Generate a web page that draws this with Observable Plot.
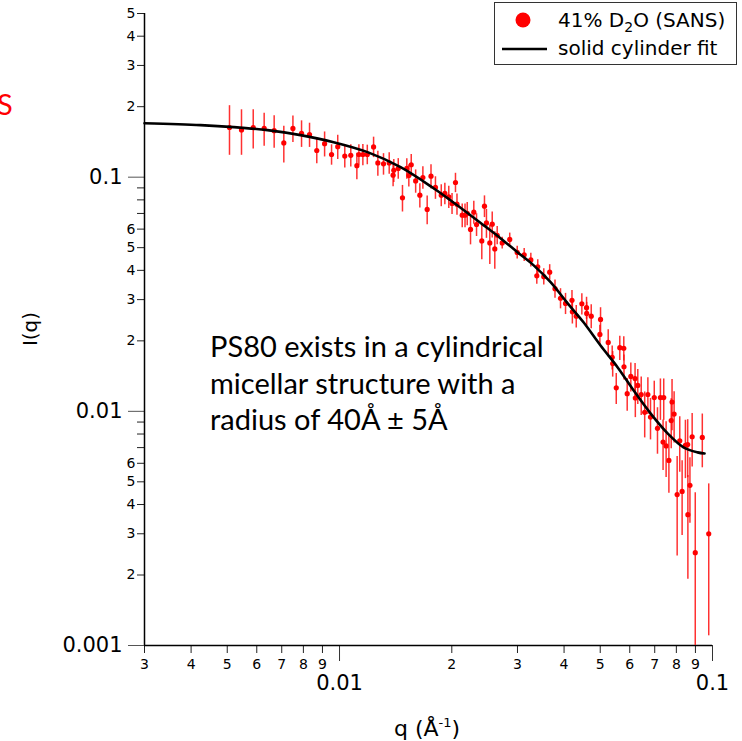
<!DOCTYPE html>
<html><head><meta charset="utf-8">
<script src="https://cdn.jsdelivr.net/npm/d3@7"></script>
<script src="https://cdn.jsdelivr.net/npm/@observablehq/plot@0.6"></script>
<style>
body{margin:0;background:#fff;}
#wrap{position:relative;width:742px;height:741px;overflow:hidden;font-family:"DejaVu Sans",sans-serif;}
#wrap svg{position:absolute;left:0;top:0;}
</style></head><body><div id="wrap"></div>
<script>
// measured SANS data: q (1/Å), I(q), uncertainty
const q = [0.00507,0.00546,0.00587,0.00628,0.00668,0.00709,0.00750,0.00791,0.00831,0.00869,
0.00912,0.00952,0.00989,0.01033,0.01072,0.01113,0.01127,0.01155,0.01187,0.01234,
0.01267,0.01312,0.01359,0.01398,0.01392,0.01437,0.01475,0.01515,0.01534,0.01557,
0.0160,0.01642,0.01673,0.01718,0.01759,0.01808,0.01874,0.01916,0.01963,0.02003,
0.02046,0.02065,0.02133,0.0217,0.0220,0.02245,0.02291,0.0233,0.02407,0.02447,
0.02477,0.02529,0.02567,0.02608,0.02647,0.0273,0.0286,0.02995,0.03127,0.03258,
0.0340,0.0338,0.03529,0.0366,0.03782,0.03913,0.04036,0.0420,0.0421,0.04312,
0.04464,0.04595,0.0460,0.0473,0.0501,0.0499,0.05253,0.05384,0.0540,0.0552,
0.05642,0.05783,0.0579,0.05906,0.0604,0.0620,0.0621,0.06305,0.0644,0.0658,
0.0671,0.0682,0.0698,0.0712,0.0725,0.0740,0.0737,0.0751,0.0764,0.0775,
0.0779,0.0789,0.0804,0.0817,0.0829,0.0846,0.0858,0.0859,0.0870,0.0882,
0.0899,0.0939,0.0977];
const I = [0.163,0.159,0.163,0.1615,0.158,0.140,0.1615,0.154,0.152,0.130,
0.139,0.125,0.135,0.123,0.124,0.112,0.125,0.125,0.125,0.1347,
0.115,0.114,0.115,0.107,0.102,0.109,0.0816,0.109,0.1017,0.113,
0.0964,0.0838,0.0997,0.0728,0.101,0.0904,0.0838,0.0852,0.0824,0.0772,
0.0949,0.0767,0.0688,0.0688,0.070,0.0598,0.0709,0.0628,0.0534,0.0752,
0.0638,0.0524,0.063,0.0494,0.0565,0.0524,0.0542,0.0477,0.0466,0.0443,
0.0414,0.0379,0.0376,0.0393,0.0334,0.0304,0.0289,0.0298,0.0266,0.0255,
0.0288,0.0277,0.0262,0.0255,0.0247,0.0213,0.0197,0.0170,0.0160,0.0126,
0.0187,0.0186,0.0155,0.0119,0.0141,0.0138,0.0114,0.0129,0.0118,0.0099,
0.0118,0.00945,0.01145,0.00846,0.01145,0.01145,0.00739,0.00712,0.00617,0.00913,
0.01096,0.00973,0.00441,0.00749,0.00455,0.00716,0.00721,0.00362,0.00483,0.00779,
0.00249,0.00774,0.0030];
const dI = [0.039,0.035,0.031,0.026,0.025,0.025,0.021,0.020,0.018,0.016,
0.017,0.0125,0.016,0.0135,0.0136,0.0146,0.0125,0.013,0.012,0.0135,
0.014,0.012,0.012,0.012,0.011,0.011,0.0106,0.011,0.011,0.012,
0.011,0.010,0.011,0.0102,0.012,0.010,0.009,0.009,0.009,0.008,
0.009,0.008,0.008,0.008,0.008,0.0084,0.008,0.007,0.009,0.008,
0.009,0.010,0.008,0.009,0.005,0.003,0.0035,0.003,0.003,0.003,
0.003,0.003,0.003,0.003,0.003,0.003,0.003,0.003,0.003,0.0028,
0.003,0.003,0.003,0.003,0.003,0.002,0.0026,0.002,0.002,0.0019,
0.0022,0.0022,0.0019,0.0019,0.002,0.0022,0.002,0.0022,0.0022,0.0022,
0.0021,0.0019,0.002,0.0019,0.0023,0.0023,0.0018,0.0019,0.0017,0.0022,
0.0027,0.0024,0.002,0.002,0.0016,0.002,0.002,0.0017,0.0015,0.002,
0.002,0.002,0.0019];
// solid cylinder fit curve
const fitQ = [0.0030,0.00424,0.0052,0.00641,0.00786,0.00964,0.01189,0.01458,0.01787,0.01984,
0.02432,0.0270,0.0300,0.0331,0.0368,0.0409,0.0451,0.0501,0.0557,0.0614,
0.0682,0.0758,0.0836,0.0912,0.0952];
const fitI = [0.170,0.1668,0.1636,0.1588,0.1512,0.1411,0.1279,0.1103,0.0897,0.0797,
0.0624,0.0549,0.0478,0.0421,0.0356,0.0289,0.0240,0.0191,0.0154,0.0123,
0.0098,0.00805,0.00702,0.00668,0.00661];
// axis ticks
const yMinor = [0.002,0.003,0.004,0.005,0.006,0.007,0.008,0.009,0.02,0.03,0.04,0.05,0.06,0.07,0.08,0.09,0.2,0.3,0.4,0.5];
const yMajor = [0.001,0.01,0.1];
const xMinor = [0.003,0.004,0.005,0.006,0.007,0.008,0.009,0.02,0.03,0.04,0.05,0.06,0.07,0.08,0.09];
const xMinorLabels = ["3","4","5","6","7","8","9","2","3","4","5","6","7","8","9"];
const xMajor = [0.01,0.1];
const yMajorLabels = ["0.001","0.01","0.1"];
const xMajorLabels = ["0.01","0.1"];
const annotation = ["PS80 exists in a cylindrical","micellar structure with a","radius of 40Å ± 5Å"];

const lead = d => Math.round(d / Math.pow(10, Math.floor(Math.log10(d) + 1e-9)));
const pts = q.map((d,i)=>({q:d, I:I[i], lo:I[i]-dI[i], hi:I[i]+dI[i]}));
const fit = fitQ.map((d,i)=>({q:d, I:fitI[i]}));
const xLab = xMinor.map((d,i)=>({q:d, t:xMinorLabels[i]}));

const chart = Plot.plot({
  width:742, height:741, marginLeft:144, marginRight:30, marginTop:13, marginBottom:96,
  style:{fontFamily:"DejaVu Sans", background:"transparent", overflow:"visible"},
  x:{type:"log", domain:[0.003,0.1]},
  y:{type:"log", domain:[0.001,0.5]},
  marks:[
    Plot.axisY(yMinor,{tickSize:7, tickPadding:2, fontSize:14, stroke:"#222", label:null,
      tickFormat:d=>{const m=lead(d); return m<=6?String(m):"";}}),
    Plot.axisY(yMajor,{tickSize:16, tickPadding:6, fontSize:21, stroke:"#555", label:null,
      tickFormat:d=>yMajorLabels[yMajor.indexOf(d)]}),
    Plot.axisX(xMinor,{tickSize:8, stroke:"#222", label:null, tickFormat:()=>""}),
    Plot.text(xLab,{x:"q", text:"t", frameAnchor:"bottom", dy:19, fontSize:14, lineAnchor:"middle", fill:"#000"}),
    Plot.axisX(xMajor,{tickSize:16, tickPadding:14, fontSize:21, stroke:"#333", label:null,
      tickFormat:d=>xMajorLabels[xMajor.indexOf(d)]}),
    Plot.ruleX([0.003],{stroke:"#000", strokeWidth:1.5}),
    Plot.ruleY([0.001],{stroke:"#000", strokeWidth:1.5}),
    Plot.ruleX(pts,{x:"q", y1:"lo", y2:"hi", stroke:"#ff0d0d", strokeOpacity:0.85, strokeWidth:1.5, clip:true}),
    Plot.dot(pts,{x:"q", y:"I", r:2.6, fill:"#ff0000", stroke:"none"}),
    Plot.line(fit,{x:"q", y:"I", curve:"catmull-rom", stroke:"#000", strokeWidth:2.6})
  ]
});
const wrap = document.getElementById("wrap");
wrap.appendChild(chart);

// overlay texts & legend
const ov = d3.select(wrap).append("svg").attr("width",742).attr("height",741)
  .style("pointer-events","none").attr("font-family","DejaVu Sans");
ov.append("text").attr("x",-3).attr("y",115).attr("fill","#ff0000")
  .attr("font-family","Lato").attr("font-size",29).text("S");
annotation.forEach((t,i)=>{
  ov.append("text").attr("x",210).attr("y",357+36.5*i).attr("fill","#000")
    .attr("font-family","Lato").attr("font-size",29).text(t);
});
ov.append("text").attr("transform","translate(37,329) rotate(-90)").attr("text-anchor","middle")
  .attr("font-size",20).text("I(q)");
const xl = ov.append("text").attr("x",427).attr("y",736).attr("text-anchor","middle").attr("font-size",22);
xl.append("tspan").text("q (Å");
xl.append("tspan").attr("font-size",13).attr("dy",-9).text("-1");
xl.append("tspan").attr("dy",9).text(")");
const lg = ov.append("g");
lg.append("rect").attr("x",494.5).attr("y",2.5).attr("width",242).attr("height",62)
  .attr("fill","#fff").attr("stroke","#333").attr("stroke-width",1);
lg.append("circle").attr("cx",523).attr("cy",20).attr("r",7.5).attr("fill","#ff0000");
const t1 = lg.append("text").attr("x",558).attr("y",27).attr("font-size",20);
t1.append("tspan").text("41% D");
t1.append("tspan").attr("font-size",14).attr("dy",5).text("2");
t1.append("tspan").attr("dy",-5).text("O (SANS)");
lg.append("line").attr("x1",502).attr("x2",547).attr("y1",49).attr("y2",49)
  .attr("stroke","#000").attr("stroke-width",2.5);
lg.append("text").attr("x",558).attr("y",55).attr("font-size",20).text("solid cylinder fit");
</script></body></html>
